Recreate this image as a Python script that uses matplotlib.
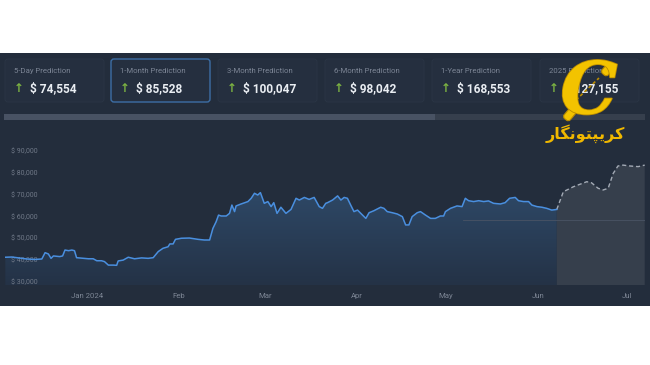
import numpy as np
import matplotlib
matplotlib.use("Agg")
import matplotlib.pyplot as plt
import matplotlib.dates as mdates
from matplotlib.patches import Rectangle, FancyBboxPatch
from matplotlib.colors import LinearSegmentedColormap
from matplotlib.transforms import Affine2D
import matplotlib.patheffects as pe

# ---------------- data ----------------
card_labels = ["5-Day Prediction", "1-Month Prediction", "3-Month Prediction",
               "6-Month Prediction", "1-Year Prediction", "2025 Prediction"]
card_values = ["$ 74,554", "$ 85,528", "$ 100,047", "$ 98,042", "$ 168,553", "$ 127,155"]

# days relative to 2024-01-01
hist_days = [-27.4, -25.2, -22.9, -20.1, -17.4, -15.1, -14.0, -12.9, -12.0, -11.2, -9.1, -8.1,
             -7.3, -6.1, -5.0, -4.1, -3.4, 0.6, 2.2, 3.4, 5.0, 6.0, 7.3, 9.0, 10.1, 10.6, 12.3,
             14.0, 16.1, 18.5, 20.7, 22.4, 24.1, 25.7, 27.4, 28.0, 29.1, 29.9, 31.9, 34.6, 37.5,
             39.6, 41.4, 42.5, 43.6, 44.4, 45.3, 47.0, 48.1, 48.9, 49.8, 50.3, 52.0, 54.3, 55.4,
             56.5, 57.6, 58.5, 59.8, 61.0, 62.1, 63.0, 64.1, 65.4, 67.1, 68.8, 70.5, 71.6, 73.3,
             74.9, 76.6, 78.3, 79.4, 80.5, 81.1, 82.8, 84.5, 85.6, 86.7, 87.8, 88.9, 90.0, 91.2,
             92.3, 94.0, 95.1, 96.7, 99.0, 100.1, 101.2, 102.9, 104.6, 106.3, 107.4, 108.5, 109.6,
             111.3, 112.4, 114.1, 115.8, 117.4, 119.1, 120.2, 120.8, 122.5, 124.7, 126.4, 127.5,
             128.6, 130.3, 132.0, 133.7, 135.3, 137.0, 139.3, 140.9, 142.4, 144.3, 145.4, 147.1,
             148.8, 149.9, 151.6, 153.3, 154.9, 156.6, 158.3]
hist_prices = [41200, 41300, 40900, 40400, 40200, 40400, 43300, 42700, 40700, 41800, 41500, 41800,
               44500, 44200, 44500, 44200, 41000, 40500, 40500, 39600, 39600, 39200, 37600, 37600,
               37500, 39500, 39900, 41200, 40500, 40900, 40700, 41000, 43800, 45300, 46000, 47300,
               47300, 49400, 49900, 50000, 49400, 49100, 49100, 54400, 57500, 60500, 60100, 60100,
               61300, 65100, 62100, 64700, 65600, 66700, 68200, 70500, 69700, 70800, 65900, 66700,
               64400, 66200, 61300, 64100, 61300, 63100, 68200, 67400, 68600, 67700, 68600, 64400,
               63600, 65900, 66200, 67400, 69300, 67400, 68600, 68200, 65100, 62100, 62800,
               61300, 59000, 61600, 62500, 64100, 63600, 62100, 61600, 61000, 59800, 56000, 56000,
               59800, 61600, 62100, 60500, 59000, 59000, 60100, 60100, 62100, 63600, 64700, 64400,
               68200, 67100, 66700, 67100, 66700, 67000, 65900, 65600, 66200, 68200, 68600, 67100,
               66700, 66700, 65100, 64400, 64100, 63600, 62800, 63100]

fc_days = [158.3, 160.5, 163.9, 168.4, 170.0, 172.2, 173.9, 175.6, 177.3, 178.9, 180.6,
           182.9, 185.7, 187.9]
fc_prices = [63100, 71200, 73500, 75800, 75300, 72800, 72000, 72800, 79600, 83000, 83400,
             83000, 82700, 83400]

y_ticks = [30000, 40000, 50000, 60000, 70000, 80000, 90000]
y_tick_labels = ["$ 30,000", "$ 40,000", "$ 50,000", "$ 60,000", "$ 70,000", "$ 80,000", "$ 90,000"]
x_tick_days = [0, 31, 60, 91, 121, 152, 182]
x_tick_labels = ["Jan 2024", "Feb", "Mar", "Apr", "May", "Jun", "Jul"]

# ---------------- helpers ----------------
base = np.datetime64("2024-01-01T00:00:00")


def to_dates(days):
    secs = (np.asarray(days, dtype=float) * 86400).round().astype("timedelta64[s]")
    return base + secs


hist_x = to_dates(hist_days)
fc_x = to_dates(fc_days)

PANEL = "#232d3c"
CARD = "#252f3f"
CARD_EDGE = "#2b3646"
HILITE = "#3d6ea5"
LABEL = "#7c8595"
VALUE = "#e9edf2"
ARROW = "#7cb342"
TICK = "#6f7887"
LINE = "#4a8fdf"
FC_LINE = "#a3aab5"
FC_FILL = "#363f4c"
GOLD = "#f3c300"
GOLD_DARK = "#b98b00"

W, H = 650, 365
fig = plt.figure(figsize=(6.5, 3.65), dpi=100)
fig.patch.set_facecolor("white")

# background overlay in pixel coordinates
bg = fig.add_axes([0, 0, 1, 1], zorder=0)
bg.set_xlim(0, W)
bg.set_ylim(H, 0)
bg.axis("off")
bg.add_patch(Rectangle((0, 53), W, 253, facecolor=PANEL, edgecolor="none"))

card_x = [5, 111, 218, 325, 432, 540]
for i, (lab, val) in enumerate(zip(card_labels, card_values)):
    x0 = card_x[i]
    hl = (i == 1)
    bg.add_patch(FancyBboxPatch((x0, 59), 99, 43,
                                boxstyle="round,pad=0,rounding_size=3",
                                facecolor=CARD, edgecolor=HILITE if hl else CARD_EDGE,
                                linewidth=1.0 if hl else 0.6))
    bg.text(x0 + 9, 71, lab, fontsize=5.6, color=LABEL, family="Roboto",
            ha="left", va="center")
    bg.text(x0 + 14, 89, "\u2191", fontsize=8.5, color=ARROW, family="DejaVu Sans",
            ha="center", va="center", fontweight="bold")
    bg.text(x0 + 25, 89, val, fontsize=8.6, color=VALUE, family="Roboto",
            fontweight="bold", ha="left", va="center")

# scrollbar
bg.add_patch(Rectangle((4, 114), 641, 6, facecolor="#363f4d", edgecolor="none"))
bg.add_patch(Rectangle((4, 114), 431, 6, facecolor="#485263", edgecolor="none"))

# ---------------- chart ----------------
ax = fig.add_axes([5 / W, (H - 285) / H, 640 / W, 145 / H], zorder=2)
ax.patch.set_alpha(0)
for s in ax.spines.values():
    s.set_visible(False)

ymin, ymax = 28489, 94900
xmin = to_dates([-27.5])[0]
xmax = to_dates([188.0])[0]

# gradient fill under historical line
poly = ax.fill_between(hist_x, hist_prices, ymin, facecolor="none", edgecolor="none")
clip_path = poly.get_paths()[0]
grad = np.linspace(0, 1, 256).reshape(-1, 1)
cmap = LinearSegmentedColormap.from_list("g", ["#243246", "#2e4866"])
im = ax.imshow(grad, extent=[mdates.date2num(xmin), mdates.date2num(hist_x[-1]), ymin, 71000],
               origin="lower", aspect="auto", cmap=cmap, zorder=1, interpolation="bilinear")
im.set_clip_path(clip_path, transform=ax.transData)

# forecast fill + line
ax.fill_between(fc_x, fc_prices, ymin, facecolor=FC_FILL, edgecolor="none", zorder=1)
ax.plot(fc_x, fc_prices, color=FC_LINE, lw=1.0, ls=(0, (3, 2)), zorder=3)
ax.plot(hist_x, hist_prices, color=LINE, lw=1.1, zorder=3)

ax.axhline(58200, xmin=(463 - 5) / 640, xmax=1, color="#4a5465", lw=0.6, zorder=2)

ax.set_xlim(xmin, xmax)
ax.set_ylim(ymin, ymax)
ax.set_aspect("auto")

ax.set_yticks(y_ticks, y_tick_labels)
for t in ax.get_yticklabels():
    t.set_ha("left")
    t.set_family("Roboto")
ax.tick_params(axis="y", length=0, pad=-4, labelsize=5, labelcolor=TICK)

ax.set_xticks(to_dates(x_tick_days), x_tick_labels)
ax.tick_params(axis="x", length=0, pad=6, labelsize=5.6, labelcolor="#7c8594")
for t in ax.get_xticklabels():
    t.set_family("Roboto")

# ---------------- watermark ----------------
top = fig.add_axes([0, 0, 1, 1], zorder=5)
top.set_xlim(0, W)
top.set_ylim(H, 0)
top.axis("off")
# chain links
for (cx, cy, ang) in [(608, 69, -50), (570, 114, -50)]:
    link = FancyBboxPatch((cx - 7, cy - 4), 14, 8, boxstyle="round,pad=0,rounding_size=3",
                          facecolor=GOLD, edgecolor=GOLD_DARK, linewidth=0.8)
    link.set_transform(Affine2D().rotate_deg_around(cx, cy, ang) + top.transData)
    top.add_patch(link)
top.text(589, 93, "C", fontsize=52, family="DejaVu Serif", fontweight="bold",
         fontstyle="italic", color=GOLD, ha="center", va="center",
         path_effects=[pe.withStroke(linewidth=1.2, foreground=GOLD_DARK)])
top.plot([576, 599], [100, 78], color=GOLD_DARK, lw=1.2, ls=(0, (2, 1.5)))
persian = "\uFEAD\uFE8E\uFB95\uFEE7\uFEEE\uFE98\uFB59\uFBFE\uFEAE\uFB90"
top.text(585, 134, persian, fontsize=11.5, family=["DejaVu Sans"], fontweight="bold",
         color="#f0b800", ha="center", va="center")

fig.savefig("out.png", dpi=100, facecolor="white")
